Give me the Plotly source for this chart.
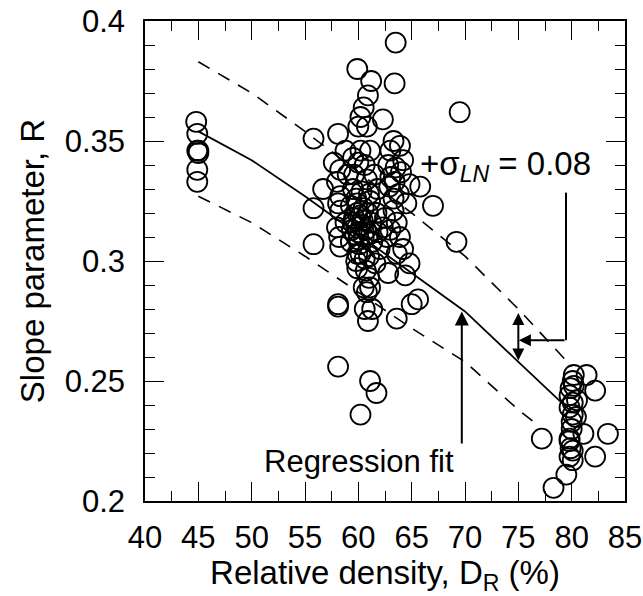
import plotly.graph_objects as go

# Regression fit and +/- sigma_LN bounds
reg_x = [45, 50, 55, 60, 65, 70, 75, 80]
reg_y = [0.354, 0.342, 0.327, 0.311, 0.295, 0.279, 0.258, 0.237]
up_x = [45, 50, 55, 60, 65, 70, 75, 80]
up_y = [0.383, 0.370, 0.354, 0.337, 0.320, 0.302, 0.280, 0.256]
lo_x = [45, 50, 55, 60, 65, 70, 75, 77]
lo_y = [0.327, 0.316, 0.302, 0.287, 0.272, 0.258, 0.238, 0.231]

# Data points (relative density %, slope parameter R)
dr = [
    44.8, 44.9, 44.9, 45.0, 45.0, 44.9, 44.9,
    63.5, 59.9, 61.2, 63.4, 60.9, 60.5, 62.3, 60.2, 60.0, 60.8, 58.1, 55.8, 63.3,
    63.9, 58.8, 60.2, 61.1, 63.0, 64.2, 57.7, 69.5,
    59.5, 60.0, 60.6, 62.8, 63.5, 64.0, 58.3, 59.0, 59.6, 60.8, 61.5, 63.0, 63.4,
    62.9, 64.8, 65.8, 56.7, 58.0, 59.5, 60.3, 61.0, 61.8, 63.8, 58.3, 59.8, 61.1,
    63.3, 67.0, 64.5,
    55.8, 58.3, 58.1, 59.3, 59.9, 60.5, 59.9, 60.2, 61.7, 63.3, 62.5, 63.6, 58.0,
    58.8, 59.5, 59.9, 60.3, 60.7, 61.2, 60.0, 59.7, 60.5, 61.0, 58.2, 62.7, 63.9,
    59.3, 60.1, 61.3, 58.3, 55.8, 62.0, 63.6, 64.2, 59.9, 60.2, 60.6, 59.8, 61.0,
    61.6, 64.8, 69.2, 63.0, 62.3, 61.8, 59.6, 60.4, 60.9, 59.4, 60.0,
    59.9, 60.7, 62.8, 64.4, 61.0, 60.5, 61.1, 60.8, 58.1, 58.1, 60.6, 61.3, 60.9,
    63.6, 65.0, 65.6, 58.1, 61.1, 61.7, 60.2,
    80.2, 81.4, 82.2, 80.1, 79.9, 79.8, 80.1, 79.8, 80.1, 80.0, 79.8, 81.1, 83.4,
    77.2, 79.8, 80.1, 79.8, 82.2, 80.1, 79.5, 78.3, 80.0, 80.2, 79.9, 80.5, 80.4,
]
r_val = [
    0.358, 0.353, 0.346, 0.346, 0.345, 0.338, 0.333,
    0.391, 0.380, 0.375, 0.374, 0.369, 0.364, 0.359, 0.360, 0.356, 0.356, 0.353, 0.351, 0.350,
    0.348, 0.346, 0.346, 0.346, 0.346, 0.342, 0.341, 0.362,
    0.343, 0.341, 0.340, 0.340, 0.339, 0.337, 0.338, 0.336, 0.336, 0.334, 0.336, 0.335, 0.333,
    0.331, 0.332, 0.331, 0.330, 0.333, 0.330, 0.329, 0.328, 0.330, 0.328, 0.327, 0.326, 0.325,
    0.326, 0.323, 0.324,
    0.322, 0.321, 0.324, 0.323, 0.324, 0.322, 0.320, 0.319, 0.320, 0.321, 0.318, 0.316, 0.314,
    0.316, 0.316, 0.314, 0.315, 0.313, 0.316, 0.312, 0.311, 0.310, 0.311, 0.310, 0.310, 0.310,
    0.308, 0.307, 0.308, 0.306, 0.307, 0.305, 0.303, 0.305, 0.303, 0.303, 0.301, 0.300, 0.302,
    0.299, 0.299, 0.308, 0.313, 0.314, 0.312, 0.318, 0.317, 0.320, 0.313, 0.309,
    0.297, 0.296, 0.295, 0.294, 0.293, 0.289, 0.289, 0.287, 0.282, 0.281, 0.280, 0.280, 0.275,
    0.276, 0.282, 0.284, 0.256, 0.250, 0.245, 0.236,
    0.2525, 0.2525, 0.246, 0.250, 0.247, 0.244, 0.241, 0.239, 0.236, 0.230, 0.226, 0.228, 0.228,
    0.226, 0.225, 0.221, 0.2185, 0.2185, 0.217, 0.211, 0.2055, 0.233, 0.248, 0.222, 0.242, 0.235,
]

x_ticks = [40, 45, 50, 55, 60, 65, 70, 75, 80, 85]
y_ticks = [0.2, 0.25, 0.3, 0.35, 0.4]
y_tick_text = ["0.2", "0.25", "0.3", "0.35", "0.4"]

FONT = "Liberation Sans, Arial, sans-serif"

fig = go.Figure()
fig.add_trace(go.Scatter(x=dr, y=r_val, mode="markers",
                         marker=dict(symbol="circle", size=20, color="rgba(0,0,0,0)",
                                     line=dict(color="black", width=1.8)),
                         showlegend=False))
fig.add_trace(go.Scatter(x=reg_x, y=reg_y, mode="lines",
                         line=dict(color="black", width=1.8), showlegend=False))
fig.add_trace(go.Scatter(x=up_x, y=up_y, mode="lines",
                         line=dict(color="black", width=1.6, dash="13px,10px"), showlegend=False))
fig.add_trace(go.Scatter(x=lo_x, y=lo_y, mode="lines",
                         line=dict(color="black", width=1.6, dash="13px,10px"), showlegend=False))

# Regression fit label and arrow
fig.add_annotation(x=69.7, y=0.279, ax=69.7, ay=0.2233, axref="x", ayref="y",
                   xref="x", yref="y", text="", showarrow=True,
                   arrowhead=2, arrowsize=1.4, arrowwidth=2, arrowcolor="black")
fig.add_annotation(x=60.06, y=0.2165, xref="x", yref="y", text="Regression fit",
                   showarrow=False, font=dict(family=FONT, size=31, color="black"))

# sigma annotation
fig.add_annotation(x=65.6, y=0.3395, xref="x", yref="y", xanchor="left",
                   text="+σ<sub><i>LN</i></sub> = 0.08", showarrow=False,
                   font=dict(family=FONT, size=33, color="black"))
fig.add_shape(type="line", x0=79.47, x1=79.47, y0=0.3285, y1=0.267, xref="x", yref="y",
              line=dict(color="black", width=2))
fig.add_annotation(x=75.05, y=0.267, ax=79.47, ay=0.267, axref="x", ayref="y",
                   xref="x", yref="y", text="", showarrow=True,
                   arrowhead=2, arrowsize=1.2, arrowwidth=2, arrowcolor="black")
fig.add_annotation(x=75.0, y=0.2783, ax=75.0, ay=0.2579, axref="x", ayref="y",
                   xref="x", yref="y", text="", showarrow=True, arrowside="end+start",
                   arrowhead=2, arrowsize=1.2, arrowwidth=2, arrowcolor="black")

axis_common = dict(showgrid=False, zeroline=False, showline=True, linecolor="black",
                   linewidth=1.5, mirror="ticks", ticks="inside", ticklen=19,
                   tickwidth=1.3, tickcolor="black", automargin=False,
                   tickfont=dict(family=FONT, size=31, color="black"))

fig.update_xaxes(range=[40, 85], tickvals=x_ticks, ticklabelstandoff=8, **axis_common,
                 minor=dict(ticks="inside", ticklen=10, tickwidth=1.3, tickcolor="black", dtick=2.5, tick0=40),
                 title=dict(text="Relative density, D<sub>R</sub> (%)", standoff=2,
                            font=dict(family=FONT, size=33, color="black")))
fig.update_yaxes(range=[0.2, 0.4], tickvals=y_ticks, ticktext=y_tick_text, ticklabelstandoff=12,
                 **axis_common,
                 minor=dict(ticks="inside", ticklen=10, tickwidth=1.3, tickcolor="black", dtick=0.01, tick0=0.2),
                 title=dict(text="Slope parameter, R", standoff=10,
                            font=dict(family=FONT, size=33, color="black")))

fig.update_layout(width=643, height=596, margin=dict(l=145, r=18, t=21, b=95),
                  plot_bgcolor="white", paper_bgcolor="white", showlegend=False)

fig.write_html("out.html")
